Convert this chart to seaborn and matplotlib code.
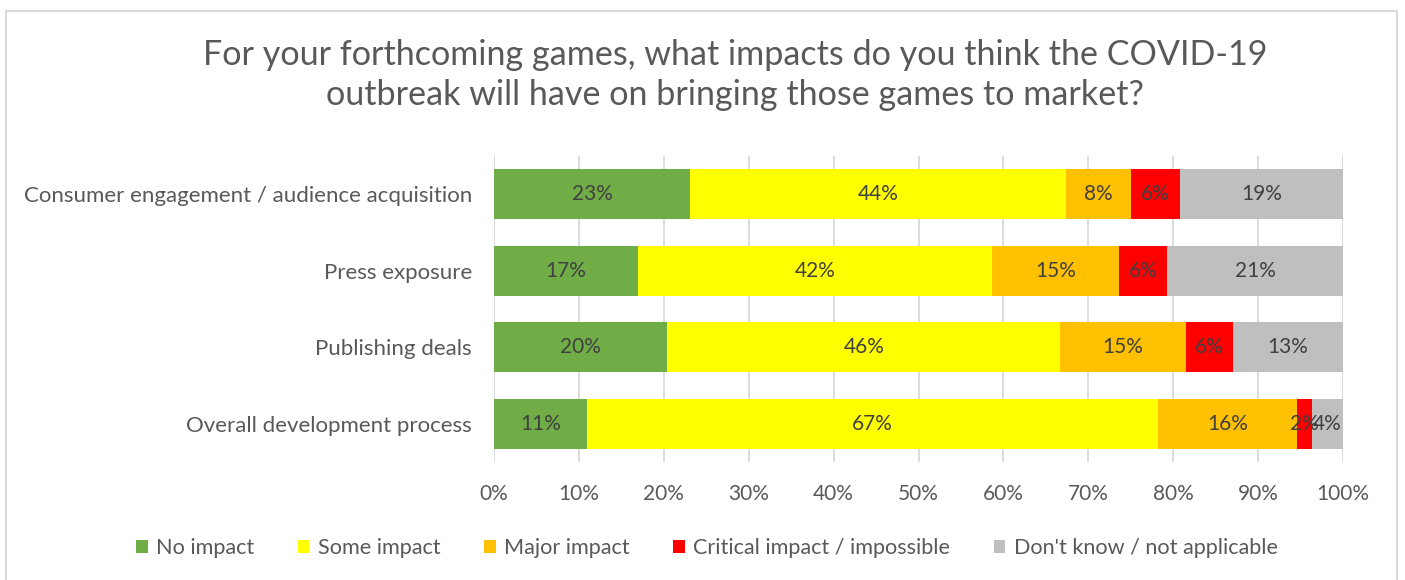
import matplotlib
matplotlib.use("Agg")
import matplotlib.pyplot as plt
import seaborn as sns
import numpy as np
import pandas as pd
from matplotlib.patches import Rectangle, Patch

categories = ["Consumer engagement / audience acquisition", "Press exposure",
              "Publishing deals", "Overall development process"]
series = ["No impact", "Some impact", "Major impact",
          "Critical impact / impossible", "Don't know / not applicable"]
no_impact = [23.1, 17.0, 20.4, 11.0]
some_impact = [44.3, 41.7, 46.3, 67.2]
major_impact = [7.6, 14.9, 14.8, 16.4]
critical_impact = [5.8, 5.7, 5.5, 1.7]
dont_know = [19.2, 20.7, 13.0, 3.7]
labels = [["23%", "44%", "8%", "6%", "19%"],
          ["17%", "42%", "15%", "6%", "21%"],
          ["20%", "46%", "15%", "6%", "13%"],
          ["11%", "67%", "16%", "2%", "4%"]]
xticks = [0, 10, 20, 30, 40, 50, 60, 70, 80, 90, 100]

colors = ["#70AD47", "#FFFF00", "#FFC000", "#FF0000", "#BFBFBF"]

sns.set_theme(style="white")
plt.rcParams['font.family'] = ['Lato', 'DejaVu Sans']

values = np.array([no_impact, some_impact, major_impact, critical_impact, dont_know])
cum = np.cumsum(values, axis=0)
starts = cum - values

fig = plt.figure(figsize=(14.05, 5.8), dpi=100)
ax = fig.add_axes([494/1405, 1-462/580, (1343-494)/1405, (462-156)/580])

# draw cumulative bars from largest to smallest so they stack visually
for i in range(len(series) - 1, -1, -1):
    df = pd.DataFrame({"cat": categories, "val": cum[i]})
    sns.barplot(data=df, y="cat", x="val", order=categories, color=colors[i],
                saturation=1, width=0.65, ax=ax, orient="h", linewidth=0, zorder=2)

for r in range(len(categories)):
    for i in range(len(series)):
        xc = starts[i][r] + values[i][r] / 2
        ax.text(xc, r, labels[r][i], ha="center", va="center",
                fontsize=15, color="#404040", zorder=3)

ax.set_xlim(0, 100)
ax.set_ylim(3.5, -0.5)
ax.set_xticks(xticks)
ax.set_xticklabels([f"{t}%" for t in xticks])
ax.set_xlabel("")
ax.set_ylabel("")
ax.grid(axis="x", color="#D9D9D9", linewidth=1.3, zorder=0)
ax.set_axisbelow(True)
for s in ax.spines.values():
    s.set_visible(False)
ax.tick_params(axis="both", length=0, labelcolor="#595959")
ax.tick_params(axis="y", pad=16, labelsize=16)
ax.tick_params(axis="x", pad=16, labelsize=15)

fig.text(735/1405, 1-75/580, "For your forthcoming games, what impacts do you think the COVID-19\noutbreak will have on bringing those games to market?",
         ha="center", va="center", fontsize=24.6, color="#595959", linespacing=1.32)

handles = [Patch(facecolor=c, edgecolor="none") for c in colors]
fig.legend(handles, series, loc="center", bbox_to_anchor=(707/1405, 1-548/580), ncol=5,
           frameon=False, fontsize=15.6, labelcolor="#595959", handlelength=0.53,
           handleheight=0.53, handletextpad=0.4, columnspacing=2.0)

fig.patches.append(Rectangle((6, -20), 1391, 589, transform=None, fill=False,
                             edgecolor="#D9D9D9", linewidth=1.5))

fig.savefig("out.png", dpi=100)
